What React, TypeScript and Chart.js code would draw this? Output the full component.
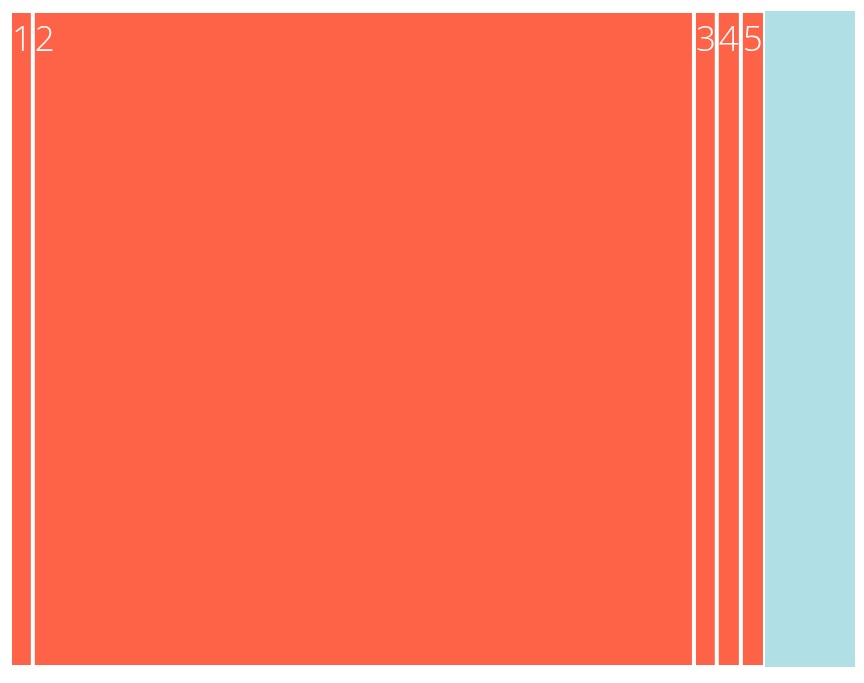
import React, { useEffect, useRef } from "react";
import { Chart, registerables } from "chart.js";

Chart.register(...registerables);

const categories = ["1", "2", "3", "4", "5", ""];
const values = [2.7, 78.2, 2.7, 2.85, 2.85, 10.65];
const colors = ["#ff6347", "#ff6347", "#ff6347", "#ff6347", "#ff6347", "#b0e0e6"];
const total = values.reduce((a, b) => a + b, 0);

const labelPlugin = {
  id: "segLabels",
  afterDatasetsDraw(chart: any) {
    const ctx = chart.ctx;
    ctx.save();
    ctx.fillStyle = "#ffffff";
    ctx.font = '300 35px "Open Sans"';
    ctx.textBaseline = "alphabetic";
    ctx.textAlign = "left";
    chart.data.datasets.forEach((ds: any, i: number) => {
      if (!ds.label) return;
      const meta = chart.getDatasetMeta(i);
      const el = meta.data[0];
      if (!el) return;
      const left = Math.min(el.x, el.base);
      const top = el.y - el.height / 2;
      ctx.fillText(ds.label, left + 2, top + 40);
    });
    ctx.restore();
  },
};

export default function App() {
  const ref = useRef<HTMLCanvasElement | null>(null);
  useEffect(() => {
    if (!ref.current) return;
    const chart = new Chart(ref.current, {
      type: "bar",
      data: {
        labels: ["all"],
        datasets: categories.map((c, i) => ({
          label: c,
          data: [values[i]],
          backgroundColor: colors[i],
          borderColor: "#ffffff",
          borderWidth: c ? 2 : 0,
          borderSkipped: false,
          inflateAmount: 0,
          categoryPercentage: 1,
          barPercentage: 1,
        })),
      },
      options: {
        indexAxis: "y",
        animation: false,
        responsive: true,
        maintainAspectRatio: false,
        layout: { padding: { left: 2, top: 3, right: 1, bottom: 8 } },
        plugins: { legend: { display: false }, tooltip: { enabled: false } },
        scales: {
          x: { stacked: true, display: false, min: 0, max: total },
          y: { stacked: true, display: false },
        },
      },
      plugins: [labelPlugin],
    } as any);
    return () => chart.destroy();
  }, []);
  return (
    <div style={{ width: 848, height: 667, position: "relative" }}>
      <canvas ref={ref} />
    </div>
  );
}
